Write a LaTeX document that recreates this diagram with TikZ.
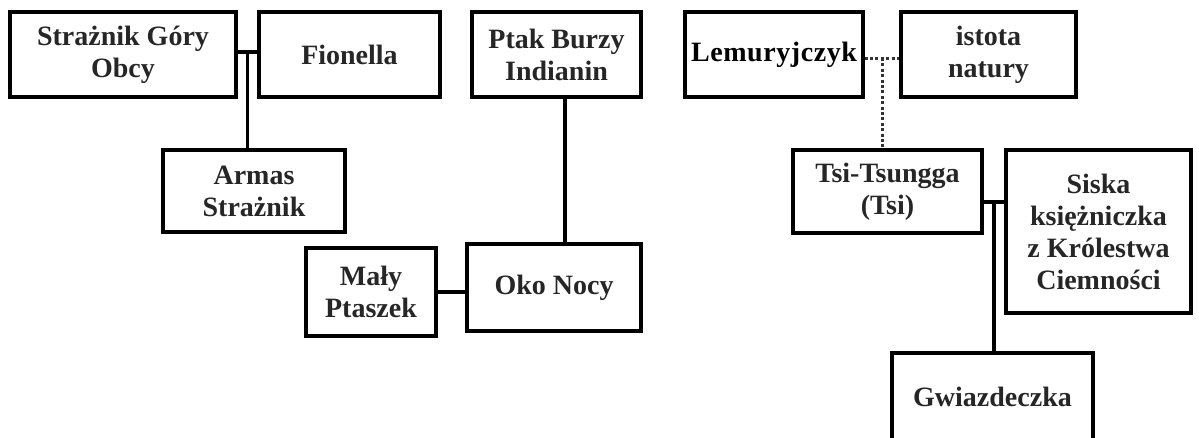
\documentclass[tikz,border=0pt]{standalone}
\usepackage{fontspec}
\setmainfont{Liberation Serif}
\usetikzlibrary{calc}
\begin{document}
\begin{tikzpicture}[x=1pt,y=-1pt,
  box/.style={draw=black, line width=3.2pt, inner sep=0pt, align=center,
    font=\fontsize{28}{32}\selectfont\bfseries, text=black!85},
  link/.style={draw=black, line width=3.2pt},
  dotlink/.style={draw=black!80, line width=3pt, dash pattern=on 3pt off 2.4pt}]
\useasboundingbox (0,0) rectangle (1199,437);
\clip (0,0) rectangle (1199,437);
\node[box, minimum width=226pt, minimum height=85pt] (sgo) at (123,54.5) {Strażnik Góry\\Obcy};
\node[box, minimum width=181pt, minimum height=85pt] (fio) at (349.5,54.5) {Fionella};
\node[box, minimum width=182pt, minimum height=82pt] (arm) at (254,191) {Armas\\Strażnik};
\node[box, minimum width=169pt, minimum height=85pt] (ptak) at (556.5,54.5) {Ptak Burzy\\Indianin};
\node[box, minimum width=174pt, minimum height=87pt] (oko) at (554,287.5) {Oko Nocy};
\node[box, minimum width=130pt, minimum height=88pt] (maly) at (371,292) {Mały\\Ptaszek};
\node[box, minimum width=178pt, minimum height=85pt, text=black] (lem) at (774,54.5) {\addfontfeatures{LetterSpace=2}Lemuryjczyk};
\node[box, minimum width=175pt, minimum height=85pt] (ist) at (988.5,54.5) {istota\\natury};
\node[box, minimum width=189pt, minimum height=83pt] (tsi) at (887.5,191.5) {Tsi-Tsungga\\(Tsi)};
\node[box, minimum width=185pt, minimum height=163pt] (sis) at (1098.5,231.5) {Siska\\księżniczka\\z Królestwa\\Ciemności};
\node[box, minimum width=201pt, minimum height=92pt] (gwi) at (992.5,399) {\raisebox{4pt}{Gwiazdeczka}};
% left family
\coordinate (j1) at ($([yshift=2.5pt]sgo.east)!0.5!([yshift=2.5pt]fio.west)$);
\draw[link] ([yshift=2.5pt]sgo.east) -- ([yshift=2.5pt]fio.west);
\draw[link] (j1) -- (j1 |- arm.north);
% middle
\draw[link] ([xshift=8.5pt]ptak.south) -- ([xshift=8.5pt]ptak.south |- oko.north);
\draw[link] (maly.east) -- (maly.east -| oko.west);
% right
\coordinate (j2) at ($([yshift=-3.5pt]lem.east)!0.5!([yshift=-3.5pt]ist.west)$);
\draw[dotlink] ([yshift=-3.5pt]lem.east) -- ([yshift=-3.5pt]ist.west);
\draw[dotlink] (j2) -- (j2 |- tsi.north);
\coordinate (j3) at ($([yshift=-10.5pt]tsi.east)!0.5!([yshift=-10.5pt]tsi.east -| sis.west)$);
\draw[link] ([yshift=-10.5pt]tsi.east) -- ([yshift=-10.5pt]tsi.east -| sis.west);
\draw[link] (j3) -- (j3 |- gwi.north);
\end{tikzpicture}
\end{document}
